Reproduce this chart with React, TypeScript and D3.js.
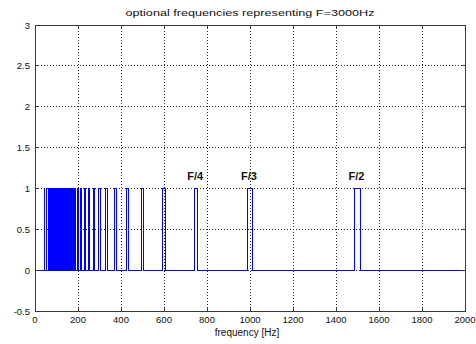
import React from 'react';
import * as d3 from 'd3';

// spike centres (Hz); dense block between ~75 and ~178 Hz
const frequencies = [
  42.9, 54.5, 65.2, 75, 75.9, 76.9, 77.9, 78.9, 80, 81.1, 82.2, 83.3, 84.5,
  85.7, 87, 88.2, 89.6, 90.9, 92.3, 93.75, 95.2, 96.8, 98.4, 100, 101.7, 103.4,
  105.3, 107.1, 109.1, 111.1, 113.2, 115.4, 117.6, 120, 122.4, 125, 127.7,
  130.4, 133.3, 136.4, 139.5, 142.9, 146.3, 150, 153.8, 157.9, 162.2, 166.7,
  171.4, 176.5, 187.5, 200, 214.3, 230.8, 250, 272.7, 300, 333.3, 375, 428.6,
  500, 600, 750, 1000, 1500,
];
const spikeHeight = [1];
const xTicks = [0, 200, 400, 600, 800, 1000, 1200, 1400, 1600, 1800, 2000];
const yTicks = [-0.5, 0, 0.5, 1, 1.5, 2, 2.5, 3];
const labelNames = ['F/4', 'F/3', 'F/2'];
const labelFreqs = [750, 1000, 1500];

const W = 476;
const H = 344;
const margin = { top: 25, right: 11, bottom: 33, left: 35 };
const font = 'Arial, "Liberation Sans", Helvetica, sans-serif';

const App = () => {
  const x = d3
    .scaleLinear()
    .domain([0, 2000])
    .range([margin.left, W - margin.right]);
  const y = d3
    .scaleLinear()
    .domain([-0.5, 3])
    .range([H - margin.bottom, margin.top]);

  // step signal: 0 everywhere, 1 in a +-1% band around each frequency
  const pts: [number, number][] = [[0, 0]];
  frequencies.forEach(f => {
    const w = f * 0.01;
    pts.push([f - w, 0], [f - w, spikeHeight[0]], [f + w, spikeHeight[0]], [f + w, 0]);
  });
  pts.push([2000, 0]);

  const line = d3
    .line<[number, number]>()
    .x(d => x(d[0]))
    .y(d => y(d[1]));

  const x0 = x(0);
  const x1 = x(2000);
  const y0 = y(-0.5);
  const y1 = y(3);
  const tick = 4;

  return (
    <svg
      width={W}
      height={H}
      style={{ position: 'absolute', left: 0, top: 0, background: '#fff' }}
      fontFamily={font}
    >
      <rect x={0} y={0} width={W} height={H} fill="#fff" />

      {/* grid */}
      <g stroke="#000" strokeWidth={1} strokeDasharray="1,2" shapeRendering="crispEdges" opacity={0.85}>
        {xTicks.slice(1, -1).map(t => (
          <line key={'gx' + t} x1={x(t)} x2={x(t)} y1={y1} y2={y0} />
        ))}
        {yTicks.slice(1, -1).map(t => (
          <line key={'gy' + t} x1={x0} x2={x1} y1={y(t)} y2={y(t)} />
        ))}
      </g>

      {/* signal */}
      <path
        d={line(pts) || ''}
        fill="none"
        stroke="#0000ff"
        strokeWidth={1}
        shapeRendering="crispEdges"
      />

      {/* box + ticks */}
      <g stroke="#3a3a3a" strokeWidth={1} shapeRendering="crispEdges">
        <rect x={x0} y={y1} width={x1 - x0} height={y0 - y1} fill="none" />
        {xTicks.map(t => (
          <g key={'tx' + t}>
            <line x1={x(t)} x2={x(t)} y1={y0} y2={y0 - tick} />
            <line x1={x(t)} x2={x(t)} y1={y1} y2={y1 + tick} />
          </g>
        ))}
        {yTicks.map(t => (
          <g key={'ty' + t}>
            <line x1={x0} x2={x0 + tick} y1={y(t)} y2={y(t)} />
            <line x1={x1} x2={x1 - tick} y1={y(t)} y2={y(t)} />
          </g>
        ))}
      </g>

      {/* tick labels */}
      <g fontSize={9.5} fill="#111">
        {xTicks.map(t => (
          <text key={'lx' + t} x={x(t)} y={y0 + 12} textAnchor="middle">
            {t}
          </text>
        ))}
        {yTicks.map(t => (
          <text key={'ly' + t} x={x0 - 5} y={y(t) + 3.5} textAnchor="end">
            {t}
          </text>
        ))}
      </g>

      {/* annotations */}
      <g fontSize={11} fontWeight="bold" fill="#111">
        {labelNames.map((n, i) => (
          <text key={n} x={x(labelFreqs[i]) - 1} y={y(1.1)} textAnchor="middle">
            {n}
          </text>
        ))}
      </g>

      <text
        x={(x0 + x1) / 2}
        y={16}
        textAnchor="middle"
        fontSize={9.5}
        fill="#111"
        textLength={249}
        lengthAdjust="spacingAndGlyphs"
      >
        optional frequencies representing F=3000Hz
      </text>
      <text x={(x0 + x1) / 2 - 3} y={336} textAnchor="middle" fontSize={10} fill="#111">
        frequency [Hz]
      </text>
    </svg>
  );
};

export default App;
